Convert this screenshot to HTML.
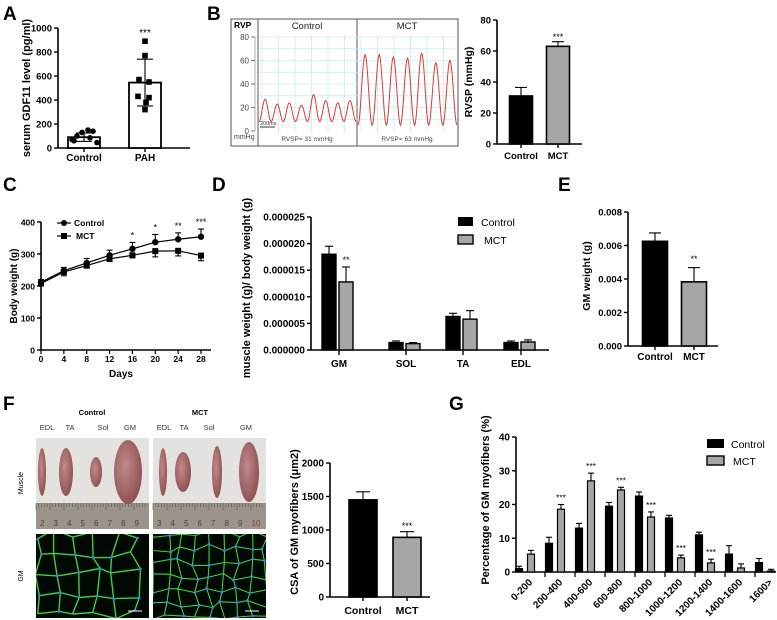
<!DOCTYPE html>
<html><head><meta charset="utf-8"><style>
html,body{margin:0;padding:0;background:#fff;}
svg{display:block;font-family:"Liberation Sans",Arial,sans-serif;}
</style></head><body>
<svg id="fig" width="777" height="620" viewBox="0 0 777 620" xmlns="http://www.w3.org/2000/svg">
<g font-weight="bold" font-size="19">
<text x="3" y="20">A</text>
<text x="207" y="20">B</text>
<text x="3" y="191">C</text>
<text x="212" y="191">D</text>
<text x="558" y="191">E</text>
<text x="3" y="410">F</text>
<text x="449" y="410">G</text>
</g>
<g id="gA"></g>
<g id="gB"></g>
<g id="gB2"></g>
<g id="gC"></g>
<g id="gD"></g>
<g id="gE"></g>
<g id="gF"></g>
<g id="gF2"></g>
<g id="gG"></g>
</svg>
<script>
// ---------- DATA ----------
const aCats=["Control","PAH"];
const aMeans=[90,545];
const aSD=[35,195];
const aCtrlPts=[70,100,130,150,140,45,60,85];
const aPahPts=[890,770,570,550,430,420,380,320];
const aTicks=[0,200,400,600,800,1000];

const rvpCtrlPeaks=[27,23,24,22,31,26,24,26];
const rvpMctPeaks=[65,65,63,62,66,58,60];
const rvpTicks=[0,20,40,60,80];

const bCats=["Control","MCT"];
const bMeans=[31,63];
const bErr=[5.5,3];
const bTicks=[0,20,40,60,80];

const cDays=[0,4,8,12,16,20,24,28];
const cCtrl=[212,248,272,296,316,337,346,354];
const cCtrlErr=[8,10,14,16,20,24,20,24];
const cMct=[208,244,264,285,296,309,310,295];
const cMctErr=[8,12,8,8,8,18,16,16];
const cStars=["","","","","*","*","**","***"];
const cTicks=[0,100,200,300,400];

const dCats=["GM","SOL","TA","EDL"];
const dCtrl=[0.0000180,0.0000014,0.0000063,0.0000014];
const dCtrlErr=[0.0000015,0.0000003,0.0000006,0.0000003];
const dMct=[0.0000128,0.0000012,0.0000058,0.0000015];
const dMctErr=[0.0000028,0.0000002,0.0000016,0.0000004];
const dStars=["**","","",""];
const dTicks=[0,0.000005,0.00001,0.000015,0.00002,0.000025];
const dTickLabels=["0.000000","0.000005","0.000010","0.000015","0.000020","0.000025"];

const eCats=["Control","MCT"];
const eMeans=[0.00625,0.00383];
const eErr=[0.0005,0.00085];
const eTicks=[0,0.002,0.004,0.006,0.008];
const eTickLabels=["0.000","0.002","0.004","0.006","0.008"];

const fCats=["Control","MCT"];
const fMeans=[1450,890];
const fErr=[120,85];
const fTicks=[0,500,1000,1500,2000];

const gCats=["0-200","200-400","400-600","600-800","800-1000","1000-1200","1200-1400","1400-1600","1600>"];
const gCtrl=[1,8.5,13,19.5,22.5,16,11,5.3,2.8];
const gCtrlErr=[0.7,1.8,1.4,1.1,1.2,0.8,0.8,2.5,1.2];
const gMct=[5.3,18.6,27,24.3,16.3,4.2,2.7,1.2,0.3];
const gMctErr=[1.1,1.4,2.3,0.8,1.5,0.8,1.1,1.2,0.5];
const gStars=["","***","***","***","***","***","***","",""];
const gTicks=[0,10,20,30,40];

// ---------- HELPERS ----------
const NS="http://www.w3.org/2000/svg";
function mk(tag,a,p){const e=document.createElementNS(NS,tag);for(const k in a)e.setAttribute(k,a[k]);p.appendChild(e);return e;}
function tx(p,x,y,s,a){const e=mk("text",Object.assign({x:x,y:y},a||{}),p);e.textContent=s;return e;}
function yAxis(p,x,ys,vals,labels,fs){
  const ax=mk("line",{x1:x,x2:x,y1:ys(vals[0]),y2:ys(vals[vals.length-1]),stroke:"#000","stroke-width":1.6},p);
  
  
  vals.forEach((v,i)=>{
    mk("line",{x1:x-4,x2:x,y1:ys(v),y2:ys(v),stroke:"#000","stroke-width":1.4},p);
    const t=tx(p,x-6,ys(v)+3.5,labels[i],{"text-anchor":"end","font-size":fs||9.5,"font-weight":"bold"});
    
    
  });
}
function xAxisLine(p,x1,x2,y){
  const l=mk("line",{x1:x1,x2:x2,y1:y,y2:y,stroke:"#000","stroke-width":1.6},p);
  
  
}
function errBar(p,x,yTop,yBase,w){
  mk("line",{x1:x,x2:x,y1:yBase,y2:yTop,stroke:"#000","stroke-width":1.1},p);
  mk("line",{x1:x-w,x2:x+w,y1:yTop,y2:yTop,stroke:"#000","stroke-width":1.1},p);
}
function yTitle(p,x,y,s,fs){
  const t=tx(p,x,y,s,{"text-anchor":"middle","font-size":fs||11,"font-weight":"bold",transform:"rotate(-90 "+x+" "+y+")"});
  
  
}
function rng(seed){let s=seed;return()=>{s=(s*9301+49297)%233280;return s/233280;};}

// ---------- PANEL A ----------
(function(){
  const g=document.getElementById("gA");
  const ys=v=>148-v*0.12;
  const xs=[84,145];
  yAxis(g,58,ys,aTicks,aTicks.map(String),9.5);
  xAxisLine(g,58,190,148);
  yTitle(g,30,88,"serum GDF11 level (pg/ml)",11);
  aCats.forEach((c,i)=>{
    const b=mk("rect",{x:xs[i]-16,y:ys(aMeans[i]),width:32,height:148-ys(aMeans[i]),fill:"#fff",stroke:"#000","stroke-width":1.8},g);
    
    
    errBar(g,xs[i],ys(aMeans[i]+aSD[i]),ys(aMeans[i]-aSD[i]),8);
    mk("line",{x1:xs[i]-8,x2:xs[i]+8,y1:ys(aMeans[i]-aSD[i]),y2:ys(aMeans[i]-aSD[i]),stroke:"#000","stroke-width":1.1},g);
    mk("line",{x1:xs[i],x2:xs[i],y1:148,y2:152,stroke:"#000","stroke-width":1.4},g);
    const t=tx(g,xs[i],161,c,{"text-anchor":"middle","font-size":10,"font-weight":"bold"});
    
    
  });
  const jit=[-12,-7,-2,4,9,13,-10,6];
  aCtrlPts.forEach((v,i)=>{
    const c=mk("circle",{cx:xs[0]+jit[i],cy:ys(v),r:2.8,fill:"#000"},g);
    
    
  });
  const jit2=[0,0,-6,4,-7,4,1,0];
  aPahPts.forEach((v,i)=>{
    const r=mk("rect",{x:xs[1]+jit2[i]-2.8,y:ys(v)-2.8,width:5.6,height:5.6,fill:"#000"},g);
    
    
  });
  tx(g,xs[1],36,"***",{"text-anchor":"middle","font-size":10});
})();

// ---------- PANEL B TRACE ----------
(function(){
  const g=document.getElementById("gB");
  mk("rect",{x:231,y:19,width:227,height:127,fill:"#fff",stroke:"#555","stroke-width":1},g);
  mk("line",{x1:258,x2:258,y1:19,y2:146,stroke:"#555"},g);
  mk("line",{x1:357,x2:357,y1:19,y2:146,stroke:"#555"},g);
  const ys=v=>131-v*(94/80);
  for(let x=262;x<458;x+=16.5){ if(Math.abs(x-357)>2) mk("line",{x1:x,x2:x,y1:35,y2:133,stroke:"#bfeff5","stroke-width":0.8},g); }
  for(let v=10;v<=80;v+=10){ mk("line",{x1:259,x2:457,y1:ys(v),y2:ys(v),stroke:"#bfeff5","stroke-width":0.8},g); }
  mk("line",{x1:255,x2:255,y1:ys(80),y2:ys(0),stroke:"#999","stroke-width":0.8},g);
  rvpTicks.forEach(v=>{
    mk("line",{x1:251,x2:255,y1:ys(v),y2:ys(v),stroke:"#777"},g);
    tx(g,249,ys(v)+3,String(v),{"text-anchor":"end","font-size":8,fill:"#444"});
  });
  tx(g,234,28,"RVP",{"font-size":8.5,"font-weight":"bold"});
  tx(g,234,139,"mmHg",{"font-size":7,fill:"#444"});
  tx(g,307,29,"Control",{"text-anchor":"middle","font-size":9.5,fill:"#222"});
  tx(g,407,29,"MCT",{"text-anchor":"middle","font-size":9.5,fill:"#222"});
  tx(g,307,141,"RVSP= 31 mmHg",{"text-anchor":"middle","font-size":6.5,fill:"#444"});
  tx(g,407,141,"RVSP= 63 mmHg",{"text-anchor":"middle","font-size":6.5,fill:"#444"});
  mk("line",{x1:260,x2:275,y1:127,y2:127,stroke:"#333"},g);
  tx(g,260,125,"200ms",{"font-size":5.5,fill:"#333"});
  function trace(x0,x1,peaks,trough,name){
    const per=(x1-x0)/peaks.length;let d="";
    for(let i=0;i<peaks.length;i++){
      for(let k=0;k<=20;k++){
        const t=k/20;const x=x0+per*(i+t);
        const s=Math.pow(Math.sin(Math.PI*t),2);
        const v=trough+(peaks[i]-trough)*s;
        d+=(d?"L":"M")+x.toFixed(1)+" "+ys(v).toFixed(1);
      }
    }
    const p=mk("path",{d:d,fill:"none",stroke:"#e03a30","stroke-width":1},g);
    
    
  }
  trace(259,356,rvpCtrlPeaks,8,'rvp-trace-control');
  trace(358,457,rvpMctPeaks,5,'rvp-trace-mct');
})();

// ---------- PANEL B BAR ----------
(function(){
  const g=document.getElementById("gB2");
  const ys=v=>144-v*(124/80);
  const xs=[521,558];
  yAxis(g,497,ys,bTicks,bTicks.map(String),9.5);
  xAxisLine(g,497,582,144);
  yTitle(g,472,82,"RVSP (mmHg)",10.5);
  const fills=["#000","#a6a6a6"];
  bCats.forEach((c,i)=>{
    errBar(g,xs[i],ys(bMeans[i]+bErr[i]),ys(bMeans[i]),6);
    const b=mk("rect",{x:xs[i]-11.5,y:ys(bMeans[i]),width:23,height:144-ys(bMeans[i]),fill:fills[i],stroke:"#000","stroke-width":1.6},g);
    
    
    mk("line",{x1:xs[i],x2:xs[i],y1:144,y2:148,stroke:"#000","stroke-width":1.4},g);
    tx(g,xs[i],159,c,{"text-anchor":"middle","font-size":9.5,"font-weight":"bold"});
  });
  tx(g,xs[1],40,"***",{"text-anchor":"middle","font-size":9});
})();

// ---------- PANEL C ----------
(function(){
  const g=document.getElementById("gC");
  const ys=v=>350-v*0.32;
  const xs=d=>41+d*(160/28);
  yAxis(g,41,ys,cTicks,cTicks.map(String),8.5);
  xAxisLine(g,41,211,350);
  cDays.forEach(d=>{
    mk("line",{x1:xs(d),x2:xs(d),y1:350,y2:354,stroke:"#000","stroke-width":1.2},g);
    tx(g,xs(d),362,String(d),{"text-anchor":"middle","font-size":8.5,"font-weight":"bold"});
  });
  tx(g,121,377,"Days",{"text-anchor":"middle","font-size":10,"font-weight":"bold"});
  yTitle(g,17,286,"Body weight (g)",10);
  function series(vals,errs,up,square,name){
    let d="";
    vals.forEach((v,i)=>{d+=(i?"L":"M")+xs(cDays[i])+" "+ys(v);});
    const p=mk("path",{d:d,fill:"none",stroke:"#000","stroke-width":1.2},g);
    
    
    vals.forEach((v,i)=>{
      const x=xs(cDays[i]);
      errBar(g,x,ys(v+(up?errs[i]:-errs[i])),ys(v),3);
      let m;
      if(square) m=mk("rect",{x:x-3,y:ys(v)-3,width:6,height:6,fill:"#000"},g);
      else m=mk("circle",{cx:x,cy:ys(v),r:3.2,fill:"#000"},g);
      
      
    });
  }
  series(cCtrl,cCtrlErr,true,false,'control');
  series(cMct,cMctErr,false,true,'mct');
  cStars.forEach((s,i)=>{ if(s) tx(g,xs(cDays[i]),ys(cCtrl[i]+cCtrlErr[i])-4,s,{"text-anchor":"middle","font-size":9}); });
  mk("line",{x1:57,x2:71,y1:223,y2:223,stroke:"#000","stroke-width":1.2},g);
  mk("circle",{cx:64,cy:223,r:3,fill:"#000"},g);
  tx(g,74,226,"Control",{"font-size":8.5,"font-weight":"bold"});
  mk("line",{x1:57,x2:71,y1:236,y2:236,stroke:"#000","stroke-width":1.2},g);
  mk("rect",{x:61,y:233,width:6,height:6,fill:"#000"},g);
  tx(g,76,239,"MCT",{"font-size":8.5,"font-weight":"bold"});
})();

// ---------- PANEL D ----------
(function(){
  const g=document.getElementById("gD");
  const ys=v=>350-v*(133/0.000025);
  const cx=[339,406,463,521];
  yAxis(g,311,ys,dTicks,dTickLabels,10);
  xAxisLine(g,311,549,350);
  yTitle(g,250,288,"muscle weight (g)/ body weight (g)",11);
  dCats.forEach((c,i)=>{
    [[dCtrl,dCtrlErr,"#000",-10,'control'],[dMct,dMctErr,"#a6a6a6",7,'mct']].forEach(s=>{
      const v=s[0][i],x=cx[i]+s[3];
      errBar(g,x,ys(v+s[1][i]),ys(v),4);
      const b=mk("rect",{x:x-7,y:ys(v),width:14,height:350-ys(v),fill:s[2],stroke:"#000","stroke-width":1.4},g);
      
      
    });
    mk("line",{x1:cx[i],x2:cx[i],y1:350,y2:355,stroke:"#000","stroke-width":1.4},g);
    tx(g,cx[i],367,c,{"text-anchor":"middle","font-size":10,"font-weight":"bold"});
    if(dStars[i]) tx(g,cx[i]+7,ys(dMct[i]+dMctErr[i])-4,dStars[i],{"text-anchor":"middle","font-size":9});
  });
  mk("rect",{x:458,y:217,width:15,height:9,fill:"#000"},g);
  tx(g,481,226,"Control",{"font-size":10.5});
  mk("rect",{x:458,y:235,width:15,height:9,fill:"#a6a6a6",stroke:"#000","stroke-width":1.4},g);
  tx(g,484,244,"MCT",{"font-size":10.5});
})();

// ---------- PANEL E ----------
(function(){
  const g=document.getElementById("gE");
  const ys=v=>346-v*(134/0.008);
  const xs=[655,694];
  yAxis(g,628,ys,eTicks,eTickLabels,9.5);
  xAxisLine(g,628,718,346);
  yTitle(g,590,276,"GM weight (g)",10.5);
  const fills=["#000","#a6a6a6"];
  eCats.forEach((c,i)=>{
    errBar(g,xs[i],ys(eMeans[i]+eErr[i]),ys(eMeans[i]),6);
    const b=mk("rect",{x:xs[i]-12.5,y:ys(eMeans[i]),width:25,height:346-ys(eMeans[i]),fill:fills[i],stroke:"#000","stroke-width":1.6},g);
    
    
    mk("line",{x1:xs[i],x2:xs[i],y1:346,y2:350,stroke:"#000","stroke-width":1.4},g);
    tx(g,xs[i],360,c,{"text-anchor":"middle","font-size":10,"font-weight":"bold"});
  });
  tx(g,xs[1],262,"**",{"text-anchor":"middle","font-size":9});
})();

// ---------- PANEL F IMAGES ----------
(function(){
  const g=document.getElementById("gF");
  tx(g,92,415,"Control",{"text-anchor":"middle","font-size":7.5,"font-weight":"bold"});
  tx(g,200,415,"MCT",{"text-anchor":"middle","font-size":7.5,"font-weight":"bold"});
  [["EDL",47],["TA",70],["Sol",103],["GM",130],["EDL",164],["TA",184],["Sol",209],["GM",246]].forEach(l=>tx(g,l[1],430,l[0],{"text-anchor":"middle","font-size":7.5,fill:"#333"}));
  tx(g,23,483,"Muscle",{"text-anchor":"middle","font-size":7,transform:"rotate(-90 23 483)"});
  tx(g,23,576,"GM",{"text-anchor":"middle","font-size":7,transform:"rotate(-90 23 576)"});
  const defs=mk("defs",{},g);
  const gr=mk("radialGradient",{id:"mus",cx:"0.4",cy:"0.4",r:"0.7"},defs);
  mk("stop",{offset:"0","stop-color":"#c08a8a"},gr);
  mk("stop",{offset:"1","stop-color":"#8a4a4c"},gr);
  const photos=[[36,[[42,4,24],[66,7,24],[96,6,15],[128,14,32]]],[153,[[163,4,24],[183,8,20],[217,5,26],[249,10,30]]]];
  photos.forEach((p,pi)=>{
    const x0=p[0];
    const ph=mk("g",{},g);
    
    
    mk("rect",{x:x0,y:438,width:113,height:66,fill:"#e4e2de"},ph);
    mk("rect",{x:x0,y:503,width:113,height:26,fill:"#9a948c"},ph);
    for(let k=0;k<40;k++) mk("line",{x1:x0+k*2.8,x2:x0+k*2.8,y1:503,y2:503+(k%5?4:7),stroke:"#5c5650","stroke-width":0.6},ph);
    const nums=pi?["3","4","5","6","7","8","9","10"]:["2","3","4","5","6","7","8","9"];
    nums.forEach((n,k)=>tx(ph,x0+4+k*13.5,526,n,{"font-size":8,fill:pi&&k==7?"#b03030":"#4a443e"}));
    p[1].forEach(m=>mk("ellipse",{cx:m[0],cy:472,rx:m[1],ry:m[2],fill:"url(#mus)"},ph));
  });
  [[36,11],[153,23]].forEach((p,pi)=>{
    const x0=p[0],r=rng(p[1]);
    const fg=mk("g",{},g);
    
    
    mk("rect",{x:x0,y:534,width:113,height:84,fill:"#020802"},fg);
    const step=pi?14:20;
    const pts=[];
    for(let yy=534;yy<=620;yy+=step){const row=[];for(let xx=x0;xx<=x0+115;xx+=step){row.push([xx+(r()-0.5)*step*0.6,yy+(r()-0.5)*step*0.6]);}pts.push(row);}
    let d="";
    for(let i=0;i<pts.length;i++)for(let j=0;j<pts[i].length;j++){
      const a=pts[i][j];
      if(j+1<pts[i].length){const b=pts[i][j+1];d+="M"+a[0].toFixed(1)+" "+a[1].toFixed(1)+"L"+b[0].toFixed(1)+" "+b[1].toFixed(1);}
      if(i+1<pts.length){const b=pts[i+1][j];d+="M"+a[0].toFixed(1)+" "+a[1].toFixed(1)+"L"+b[0].toFixed(1)+" "+b[1].toFixed(1);}
    }
    const cp=mk("clipPath",{id:"cl"+pi},defs);
    mk("rect",{x:x0,y:534,width:113,height:84},cp);
    const gg=mk("g",{"clip-path":"url(#cl"+pi+")"},fg);
    mk("path",{d:d,stroke:"#3cd23c","stroke-width":pi?1.1:1.4,fill:"none"},gg);
    pts.forEach(row=>row.forEach(a=>{ if(r()<0.7) mk("circle",{cx:a[0],cy:a[1],r:1.4,fill:"#3a7cff"},gg);}));
    mk("line",{x1:x0+92,x2:x0+106,y1:611,y2:611,stroke:"#fff","stroke-width":1},fg);
  });
})();

// ---------- PANEL F CSA ----------
(function(){
  const g=document.getElementById("gF2");
  const ys=v=>597-v*(134/2000);
  const xs=[363,407];
  yAxis(g,330,ys,fTicks,fTicks.map(String),10);
  xAxisLine(g,330,430,597);
  yTitle(g,298,522,"CSA of GM myofibers (μm2)",11);
  const fills=["#000","#a6a6a6"];
  fCats.forEach((c,i)=>{
    errBar(g,xs[i],ys(fMeans[i]+fErr[i]),ys(fMeans[i]),7);
    const b=mk("rect",{x:xs[i]-14,y:ys(fMeans[i]),width:28,height:597-ys(fMeans[i]),fill:fills[i],stroke:"#000","stroke-width":1.6},g);
    
    
    mk("line",{x1:xs[i],x2:xs[i],y1:597,y2:601,stroke:"#000","stroke-width":1.4},g);
    tx(g,xs[i],614,c,{"text-anchor":"middle","font-size":10.5,"font-weight":"bold"});
  });
  tx(g,xs[1],529,"***",{"text-anchor":"middle","font-size":9});
})();

// ---------- PANEL G ----------
(function(){
  const g=document.getElementById("gG");
  const ys=v=>572-v*(135/40);
  const xs=i=>525+i*30;
  yAxis(g,516,ys,gTicks,gTicks.map(String),10);
  xAxisLine(g,516,776,572);
  yTitle(g,489,500,"Percentage of GM myofibers (%)",11);
  gCats.forEach((c,i)=>{
    const t0=xs(i);
    [[gCtrl,gCtrlErr,"#000",-6,'control'],[gMct,gMctErr,"#a6a6a6",6,'mct']].forEach(s=>{
      const v=s[0][i],x=t0+s[3];
      errBar(g,x,ys(v+s[1][i]),ys(v),3);
      const b=mk("rect",{x:x-3.5,y:ys(v),width:7,height:572-ys(v),fill:s[2],stroke:"#000","stroke-width":1.2},g);
      
      
    });
    mk("line",{x1:t0+20,x2:t0+20,y1:572,y2:577,stroke:"#000","stroke-width":1.3},g);
    const lx=t0+8,ly=583;
    const t=tx(g,lx,ly,c,{"text-anchor":"end","font-size":10,"font-weight":"bold",transform:"rotate(-45 "+lx+" "+ly+")"});
    
    
    if(gStars[i]) tx(g,t0+6,ys(gMct[i]+gMctErr[i])-4,gStars[i],{"text-anchor":"middle","font-size":8.5});
  });
  mk("rect",{x:707,y:439,width:17,height:9,fill:"#000"},g);
  tx(g,731,448,"Control",{"font-size":10.5});
  mk("rect",{x:707,y:456,width:17,height:9,fill:"#a6a6a6",stroke:"#000","stroke-width":1.4},g);
  tx(g,733,465,"MCT",{"font-size":10.5});
})();
</script>
</body></html>
